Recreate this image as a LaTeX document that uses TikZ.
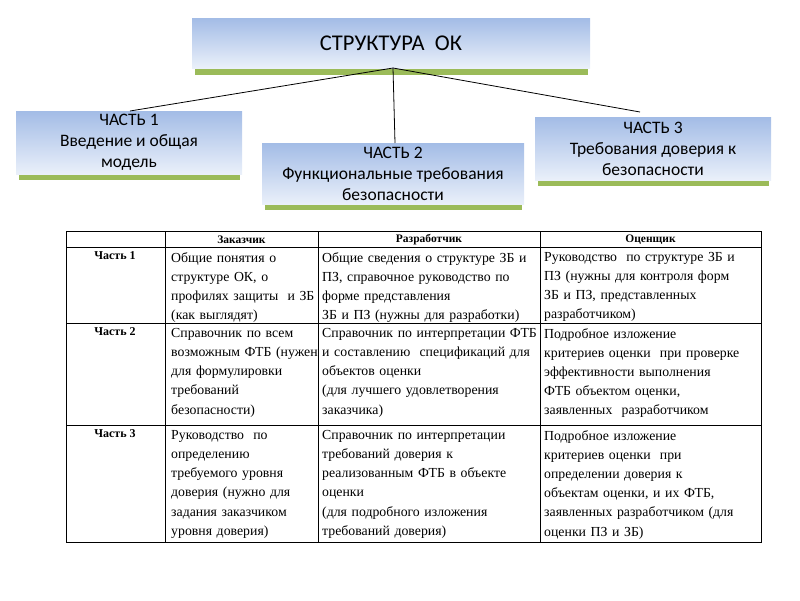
\documentclass[tikz,border=0pt]{standalone}
\usepackage{fontspec}
\setmainfont{Liberation Serif}
\newfontfamily\boxfont{Carlito}
\begin{document}
\begin{tikzpicture}[x=1pt,y=-1pt,
  bx/.style={draw=none,align=center,font=\boxfont\fontsize{17.5}{21}\selectfont,inner sep=0pt},
  cell/.style={anchor=north west,align=left,text width=#1,inner sep=0pt,font=\fontsize{13.8}{19.2}\selectfont},
  hd/.style={font=\bfseries\fontsize{11.5}{13}\selectfont,inner sep=0pt},
  rl/.style={anchor=north,font=\bfseries\fontsize{12}{14}\selectfont,inner sep=0pt}]
\useasboundingbox (0,0) rectangle (800,600);
\definecolor{shadowgreen}{HTML}{9BBB59}
\definecolor{boxtop}{HTML}{A3BCE6}
\definecolor{boxbot}{HTML}{EAF0FA}
\tikzset{bx/.append style={top color=boxtop,bottom color=boxbot}}
% shadows
\fill[shadowgreen] (195,66) rectangle (588,75);
\fill[shadowgreen] (19,170) rectangle (240,180);
\fill[shadowgreen] (265,200) rectangle (522,210);
\fill[shadowgreen] (538,176) rectangle (769,186);
\node[bx,minimum width=398,minimum height=50,font=\boxfont\fontsize{22.5}{26}\selectfont] (top) at (391,43) {СТРУКТУРА\ \ ОК};
\node[bx,minimum width=226,minimum height=63] (p1) at (129,142.5) {ЧАСТЬ 1\\Введение и общая\\модель};
\node[bx,minimum width=262,minimum height=61] (p2) at (393,173.5) {ЧАСТЬ 2\\Функциональные требования\\безопасности};
\node[bx,minimum width=236,minimum height=63] (p3) at (653,148.5) {ЧАСТЬ 3\\Требования доверия к\\безопасности};
\coordinate (c) at (393,68);
\draw[line width=0.8pt] (c) -- (130,111);
\draw[line width=0.8pt] (c) -- (395,143);
\draw[line width=0.8pt] (c) -- (640,112);
% table
\draw[line width=0.6pt] (66,231) rectangle (761,542);
\foreach \y in {247,323,425} \draw[line width=0.6pt] (66,\y) -- (761,\y);
\foreach \x in {165,318,540} \draw[line width=0.6pt] (\x,231) -- (\x,542);
\node[hd] (h1) at (241.5,239.5) {Заказчик};
\node[hd] (h2) at (429,239.5) {Разработчик};
\node[hd] (h3) at (650.5,239.5) {Оценщик};
\node[rl] (r1) at (115,251) {Часть 1};
\node[rl] (r2) at (115,327) {Часть 2};
\node[rl] (r3) at (115,429) {Часть 3};
\node[cell=148] (a1) at (171,252) {Общие понятия о\\структуре ОК, о\\профилях защиты\ \ и ЗБ\\(как выглядят)};
\node[cell=218] (b1) at (322,252) {Общие сведения о структуре ЗБ и\\ПЗ, справочное руководство по\\форме представления\\ЗБ и ПЗ (нужны для разработки)};
\node[cell=220] (c1) at (544,252) {Руководство\ \ по структуре ЗБ и\\ПЗ (нужны для контроля форм\\ЗБ и ПЗ, представленных\\разработчиком)};
\node[cell=148] (a2) at (171,328) {Справочник по всем\\возможным ФТБ (нужен\\для формулировки\\требований\\безопасности)};
\node[cell=218] (b2) at (322,328) {Справочник по интерпретации ФТБ\\и составлению\ \ спецификаций для\\объектов оценки\\(для лучшего удовлетворения\\заказчика)};
\node[cell=220] (c2) at (544,328) {Подробное изложение\\критериев оценки\ \ при проверке\\эффективности выполнения\\ФТБ объектом оценки,\\заявленных\ \ разработчиком};
\node[cell=148] (a3) at (171,430) {Руководство\ \ по\\определению\\требуемого уровня\\доверия (нужно для\\задания заказчиком\\уровня доверия)};
\node[cell=218] (b3) at (322,430) {Справочник по интерпретации\\требований доверия к\\реализованным ФТБ в объекте\\оценки\\(для подробного изложения\\требований доверия)};
\node[cell=220] (c3) at (544,430) {Подробное изложение\\критериев оценки\ \ при\\определении доверия к\\объектам оценки, и их ФТБ,\\заявленных разработчиком (для\\оценки ПЗ и ЗБ)};
\end{tikzpicture}
\end{document}
